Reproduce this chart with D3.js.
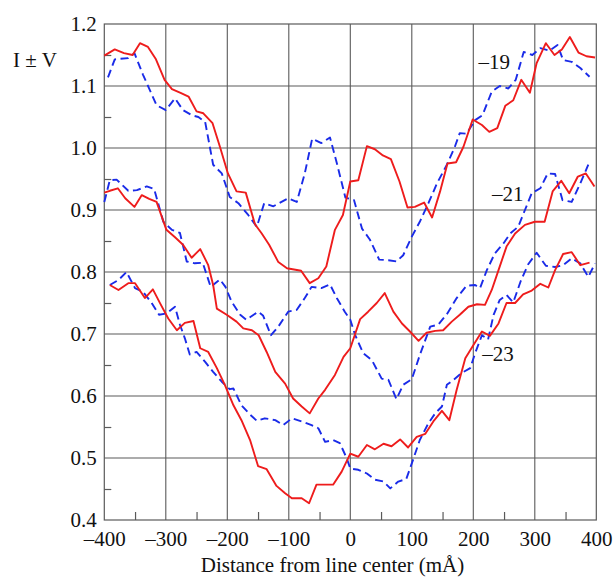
<!DOCTYPE html>
<html>
<head>
<meta charset="utf-8">
<script src="https://cdn.jsdelivr.net/npm/d3@7"></script>
<style>
  html, body { margin: 0; padding: 0; background: #fff; }
  svg { display: block; }
</style>
</head>
<body>
<div id="chart"></div>
<script>
// distances (mÅ) and I ± V values
const red19X = [-400,-383,-368,-354,-342,-329,-316,-302,-290,-276,-263,-250,-239,-224,-212,-199,-185,-170,-155,-144,-132,-117,-103,-80,-66,-52,-39,-25,-12,0,13,27,40,53,66,80,93,105,120,133,146,158,172,184,199,214,226,239,252,265,278,292,303,318,332,344,357,371,384,398];
const red19Y = [1.149,1.159,1.153,1.150,1.169,1.163,1.143,1.110,1.095,1.089,1.083,1.059,1.056,1.040,1.002,0.959,0.930,0.928,0.877,0.862,0.844,0.816,0.806,0.802,0.782,0.790,0.809,0.868,0.892,0.946,0.948,1.003,0.998,0.988,0.982,0.946,0.904,0.905,0.912,0.888,0.930,0.975,0.977,1.002,1.046,1.037,1.026,1.032,1.068,1.077,1.110,1.089,1.137,1.169,1.150,1.159,1.179,1.154,1.148,1.146];

const blue19X = [-394,-383,-361,-351,-337,-315,-300,-285,-272,-258,-247,-236,-223,-209,-196,-182,-166,-152,-140,-125,-101,-87,-74,-62,-47,-33,-21,-8,6,19,32,47,62,75,86,100,113,127,141,157,170,178,189,203,215,230,243,257,269,282,296,309,324,337,346,360,374,389];
const blue19Y = [1.114,1.143,1.145,1.153,1.118,1.069,1.061,1.080,1.061,1.053,1.050,1.042,0.973,0.959,0.921,0.911,0.892,0.873,0.911,0.906,0.919,0.913,0.959,1.015,1.008,1.017,0.972,0.920,0.916,0.870,0.852,0.820,0.819,0.817,0.827,0.857,0.881,0.911,0.943,0.973,1.002,1.024,1.023,1.045,1.053,1.091,1.100,1.096,1.110,1.155,1.150,1.161,1.157,1.166,1.142,1.139,1.129,1.115];

const red21X = [-400,-391,-378,-366,-351,-339,-327,-315,-299,-285,-272,-258,-244,-231,-223,-217,-201,-185,-174,-160,-149,-136,-122,-106,-93,-79,-66,-52,-41,-25,-11,0,16,29,43,56,70,84,97,111,124,138,151,165,178,192,206,219,230,241,254,268,284,300,316,329,343,356,370,383,397];
const red21Y = [0.928,0.931,0.935,0.919,0.905,0.924,0.918,0.913,0.868,0.856,0.844,0.823,0.837,0.811,0.779,0.741,0.731,0.720,0.709,0.706,0.698,0.671,0.639,0.620,0.596,0.583,0.572,0.596,0.610,0.634,0.663,0.677,0.724,0.736,0.750,0.766,0.736,0.717,0.704,0.689,0.702,0.705,0.706,0.720,0.731,0.744,0.748,0.747,0.771,0.803,0.841,0.862,0.876,0.881,0.881,0.930,0.947,0.927,0.954,0.959,0.938];

const blue21X = [-400,-391,-380,-361,-347,-331,-319,-304,-290,-277,-266,-253,-240,-227,-212,-203,-193,-179,-169,-150,-142,-129,-117,-101,-87,-74,-63,-47,-33,-22,-9,0,8,21,35,51,62,75,86,100,113,130,143,157,173,189,203,211,222,235,249,260,273,284,295,309,321,333,345,360,374,387];
const blue21Y = [0.913,0.948,0.949,0.931,0.932,0.938,0.934,0.881,0.868,0.863,0.817,0.814,0.815,0.776,0.788,0.776,0.752,0.731,0.723,0.736,0.730,0.698,0.712,0.736,0.739,0.758,0.776,0.774,0.780,0.758,0.736,0.723,0.698,0.669,0.658,0.628,0.626,0.595,0.618,0.627,0.666,0.712,0.715,0.732,0.758,0.778,0.779,0.774,0.803,0.830,0.846,0.862,0.873,0.900,0.927,0.935,0.959,0.958,0.916,0.913,0.943,0.973];

const red23X = [-391,-377,-361,-350,-334,-321,-309,-296,-282,-269,-255,-244,-231,-217,-204,-190,-177,-163,-150,-136,-120,-106,-95,-79,-67,-55,-28,-14,0,13,27,40,54,67,81,94,108,122,135,149,161,173,187,200,214,227,241,254,268,281,295,309,322,333,346,360,374,389];
const red23Y = [0.779,0.771,0.782,0.782,0.758,0.772,0.749,0.725,0.706,0.718,0.721,0.677,0.671,0.645,0.618,0.585,0.561,0.529,0.487,0.482,0.455,0.443,0.435,0.435,0.427,0.457,0.457,0.478,0.507,0.502,0.521,0.514,0.523,0.519,0.530,0.517,0.534,0.539,0.559,0.576,0.561,0.610,0.661,0.682,0.704,0.697,0.717,0.750,0.750,0.764,0.770,0.781,0.775,0.803,0.829,0.832,0.811,0.815];

const blue23X = [-391,-377,-364,-350,-337,-323,-311,-299,-285,-277,-269,-261,-250,-236,-223,-209,-196,-190,-177,-163,-152,-139,-122,-109,-95,-79,-63,-52,-41,-28,-17,-6,0,13,27,40,54,65,78,91,102,113,127,138,149,157,168,181,195,203,214,224,233,243,254,265,277,289,303,318,333,346,360,374,387,398];
const blue23Y = [0.779,0.787,0.800,0.774,0.768,0.750,0.731,0.733,0.744,0.715,0.693,0.667,0.671,0.655,0.639,0.623,0.611,0.612,0.585,0.570,0.560,0.564,0.561,0.553,0.564,0.559,0.553,0.548,0.526,0.529,0.524,0.500,0.483,0.481,0.475,0.465,0.462,0.451,0.462,0.466,0.497,0.529,0.556,0.572,0.583,0.618,0.626,0.637,0.645,0.669,0.698,0.691,0.731,0.755,0.763,0.751,0.785,0.812,0.831,0.810,0.808,0.811,0.822,0.814,0.792,0.814];

const xTicks = [-400,-300,-200,-100,0,100,200,300,400];
const yTicks = [0.4,0.5,0.6,0.7,0.8,0.9,1.0,1.1,1.2];
const xMinor = [-350,-250,-150,-50,50,150,250,350];
const yMinor = [0.45,0.55,0.65,0.75,0.85,0.95,1.05,1.15];

const curveLabels = [
  { text: '\u201319', x: 234, y: 1.139 },
  { text: '\u201321', x: 256, y: 0.927 },
  { text: '\u201323', x: 240, y: 0.669 }
];

const width = 615, height = 577;
const FONT = '"Liberation Serif", "Times New Roman", Times, serif';
const FS = 21;
const textColor = '#111';
const gridColor = '#5a5a5a';

const svg = d3.select('#chart').append('svg')
  .attr('width', width)
  .attr('height', height);

const x = d3.scaleLinear().domain([-400, 400]).range([104.3, 596.3]);
const y = d3.scaleLinear().domain([0.4, 1.2]).range([520, 24]);

// grid
const grid = svg.append('g');
grid.selectAll('line.v').data(xTicks.slice(1, -1)).join('line')
  .attr('x1', d => x(d)).attr('x2', d => x(d))
  .attr('y1', y(0.4)).attr('y2', y(1.2))
  .attr('stroke', gridColor).attr('stroke-width', 1.1);
grid.selectAll('line.h').data(yTicks.slice(1, -1)).join('line')
  .attr('x1', x(-400)).attr('x2', x(400))
  .attr('y1', d => y(d)).attr('y2', d => y(d))
  .attr('stroke', gridColor).attr('stroke-width', 1.1);
grid.append('rect')
  .attr('x', x(-400)).attr('y', y(1.2))
  .attr('width', x(400) - x(-400)).attr('height', y(0.4) - y(1.2))
  .attr('fill', 'none').attr('stroke', gridColor).attr('stroke-width', 1.2);

// minor ticks pointing inward
svg.append('g')
  .attr('transform', `translate(${x(-400)},0)`)
  .call(d3.axisLeft(y).tickValues(yMinor).tickSize(-7).tickFormat(''))
  .call(g => g.select('.domain').remove())
  .call(g => g.selectAll('line').attr('stroke', gridColor).attr('stroke-width', 1.2));
svg.append('g')
  .attr('transform', `translate(0,${y(0.4)})`)
  .call(d3.axisBottom(x).tickValues(xMinor).tickSize(-8).tickFormat(''))
  .call(g => g.select('.domain').remove())
  .call(g => g.selectAll('line').attr('stroke', gridColor).attr('stroke-width', 1.2));

// tick labels
const fmtX = d => d < 0 ? '\u2013' + Math.abs(d) : String(d);
svg.append('g')
  .attr('transform', `translate(0,${y(0.4)})`)
  .call(d3.axisBottom(x).tickValues(xTicks).tickSize(0).tickFormat(fmtX))
  .call(g => g.select('.domain').remove())
  .call(g => g.selectAll('text')
    .attr('y', 25.5).attr('dy', null)
    .style('font-family', FONT).style('font-size', FS + 'px')
    .attr('fill', textColor));

svg.append('g')
  .attr('transform', `translate(${x(-400)},0)`)
  .call(d3.axisLeft(y).tickValues(yTicks).tickSize(0).tickPadding(7.5).tickFormat(d3.format('.1f')))
  .call(g => g.select('.domain').remove())
  .call(g => g.selectAll('text')
    .attr('dy', '0.32em')
    .style('font-family', FONT).style('font-size', FS + 'px')
    .attr('fill', textColor));

// axis titles
svg.append('text')
  .attr('x', (199 + 466) / 2).attr('y', 572)
  .attr('text-anchor', 'middle')
  .style('font-family', FONT).style('font-size', FS + 'px')
  .attr('fill', textColor)
  .text('Distance from line center (mÅ)');
svg.append('text')
  .attr('x', 13).attr('y', 67)
  .style('font-family', FONT).style('font-size', FS + 'px')
  .attr('fill', textColor)
  .text('I ± V');

// curves
const line = d3.line().x(d => x(d[0])).y(d => y(d[1]));
const series = [
  { xs: blue19X, ys: blue19Y, color: '#1a2be8', dash: '8,4.5' },
  { xs: blue21X, ys: blue21Y, color: '#1a2be8', dash: '8,4.5' },
  { xs: blue23X, ys: blue23Y, color: '#1a2be8', dash: '8,4.5' },
  { xs: red19X, ys: red19Y, color: '#ee1c1c', dash: null },
  { xs: red21X, ys: red21Y, color: '#ee1c1c', dash: null },
  { xs: red23X, ys: red23Y, color: '#ee1c1c', dash: null }
];
const plot = svg.append('g');
series.forEach(s => {
  plot.append('path')
    .datum(s.xs.map((v, i) => [v, s.ys[i]]))
    .attr('d', line)
    .attr('fill', 'none')
    .attr('stroke', s.color)
    .attr('stroke-width', 1.9)
    .attr('stroke-linejoin', 'round')
    .attr('stroke-dasharray', s.dash);
});

// curve labels
svg.append('g').selectAll('text').data(curveLabels).join('text')
  .attr('x', d => x(d.x)).attr('y', d => y(d.y))
  .attr('text-anchor', 'middle')
  .attr('dy', '0.35em')
  .style('font-family', FONT).style('font-size', FS + 'px')
  .attr('fill', textColor)
  .text(d => d.text);
</script>
</body>
</html>
